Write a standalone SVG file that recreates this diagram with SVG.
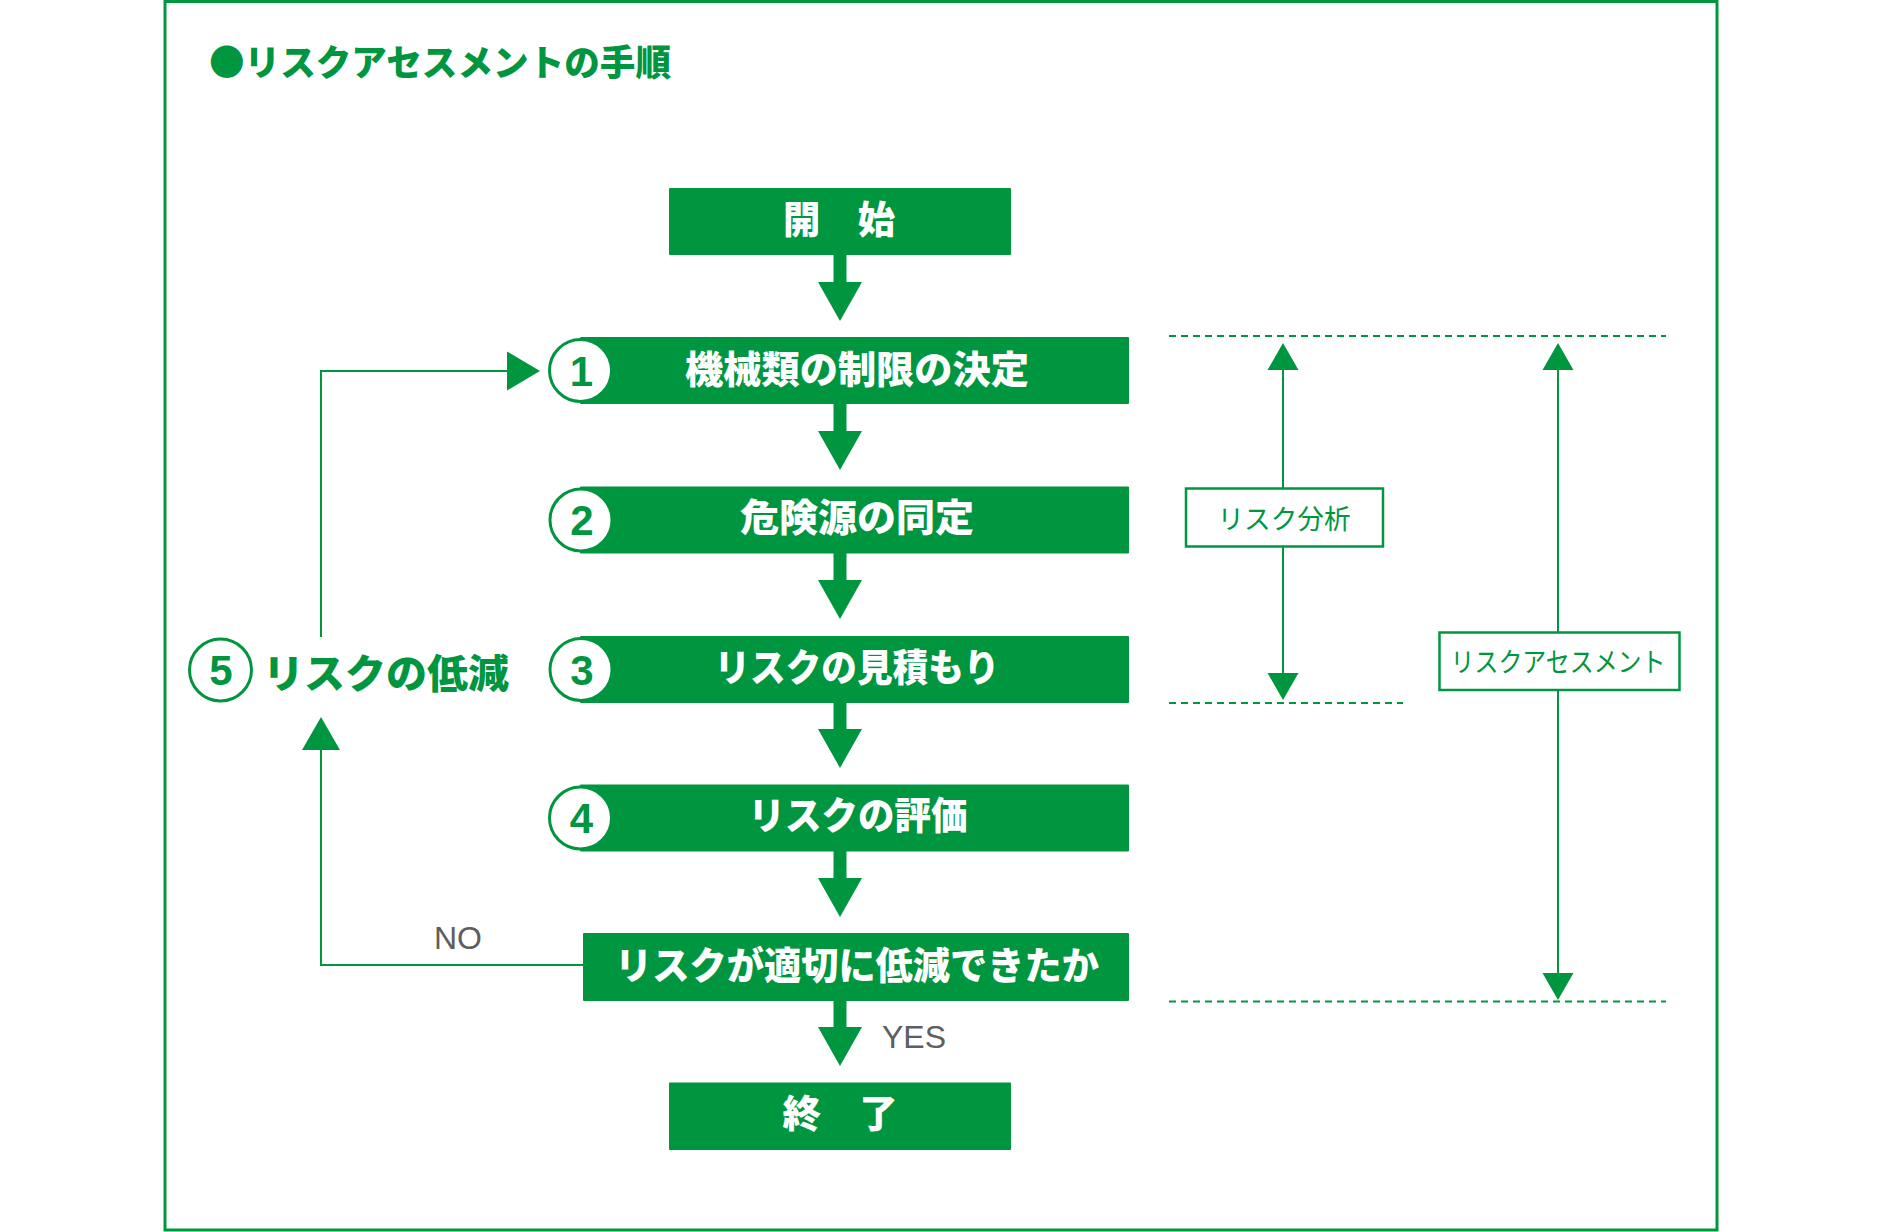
<svg xmlns="http://www.w3.org/2000/svg" width="1885" height="1232" viewBox="0 0 1885 1232">
<style>
.frame{fill:none;stroke:#009640;stroke-width:3}
.box{fill:#009640}
.num{fill:#fff;stroke:#009640;stroke-width:3}
.t{font-family:"Noto Sans CJK JP","Noto Sans",sans-serif;font-weight:900;font-size:38px;fill:#fff;text-anchor:middle;dominant-baseline:central}
.d{font-family:"Liberation Sans",Arial,sans-serif;font-weight:700;font-size:42px;fill:#009640;text-anchor:middle;dominant-baseline:central}
.g{font-family:"Noto Sans CJK JP","Noto Sans",sans-serif;font-weight:900;fill:#009640;dominant-baseline:central}
.lbl{fill:#fff;stroke:#009640;stroke-width:2.5}
.lt{font-family:"Noto Sans CJK JP","Noto Sans",sans-serif;font-weight:400;font-size:27px;fill:#009640;text-anchor:middle;dominant-baseline:central}
.yn{font-family:"Liberation Sans",Arial,sans-serif;font-size:32px;fill:#5e5e5e;dominant-baseline:central}
.ln{fill:none;stroke:#009640;stroke-width:2}
.dash{fill:none;stroke:#009640;stroke-width:2;stroke-dasharray:7 5}
.ah{fill:#009640}
</style>
<rect class="frame" x="165" y="1.5" width="1552" height="1228.5"/>
<g id="title">
<text class="g" x="209" y="60" font-size="36" textLength="462" lengthAdjust="spacingAndGlyphs">●リスクアセスメントの手順</text>
</g>
<g id="connectors">
<path class="ah" d="M833.5 255H846.5V282H862L840 321L818 282H833.5Z"/>
<path class="ah" d="M833.5 404H846.5V431H862L840 470L818 431H833.5Z"/>
<path class="ah" d="M833.5 553H846.5V580H862L840 619L818 580H833.5Z"/>
<path class="ah" d="M833.5 702H846.5V729H862L840 768L818 729H833.5Z"/>
<path class="ah" d="M833.5 851H846.5V878H862L840 917L818 878H833.5Z"/>
<path class="ah" d="M833.5 1000H846.5V1027H862L840 1066L818 1027H833.5Z"/>
<polyline class="ln" points="583,965 321,965 321,748"/>
<path class="ah" d="M321 717L340 750H302Z"/>
<polyline class="ln" points="321,637 321,371 509,371"/>
<path class="ah" d="M540 371L507 351.5V390.5Z"/>
<line class="dash" x1="1169" y1="336" x2="1666" y2="336"/>
<line class="dash" x1="1169" y1="703" x2="1403" y2="703"/>
<line class="dash" x1="1169" y1="1001.5" x2="1666" y2="1001.5"/>
<line class="ln" x1="1283" y1="368" x2="1283" y2="488"/>
<line class="ln" x1="1283" y1="547" x2="1283" y2="676"/>
<path class="ah" d="M1283 343L1298.5 370H1267.5Z"/>
<path class="ah" d="M1283 700L1298.5 673H1267.5Z"/>
<line class="ln" x1="1558" y1="368" x2="1558" y2="632"/>
<line class="ln" x1="1558" y1="690" x2="1558" y2="975"/>
<path class="ah" d="M1558 343L1573.5 370H1542.5Z"/>
<path class="ah" d="M1558 1000L1573.5 973H1542.5Z"/>
<text class="yn" x="434" y="938">NO</text>
<text class="yn" x="882" y="1037">YES</text>
</g>
<g id="start">
<rect class="box" x="669" y="188" width="342" height="67" rx="1"/>
<text class="t" x="839" y="216.5" textLength="112" lengthAdjust="spacingAndGlyphs">開　始</text>
</g>
<g id="step1">
<rect class="box" x="580" y="337" width="549" height="67" rx="1"/>
<circle class="num" cx="580.5" cy="370.5" r="31"/>
<text class="d" x="581.5" y="371">1</text>
<text class="t" x="857" y="366" textLength="344" lengthAdjust="spacingAndGlyphs">機械類の制限の決定</text>
</g>
<g id="step2">
<rect class="box" x="580" y="486.5" width="549" height="67" rx="1"/>
<circle class="num" cx="581" cy="520" r="31"/>
<text class="d" x="582" y="520.5">2</text>
<text class="t" x="857" y="514.5" textLength="234" lengthAdjust="spacingAndGlyphs">危険源の同定</text>
</g>
<g id="step3">
<rect class="box" x="580" y="636" width="549" height="67" rx="1"/>
<circle class="num" cx="581" cy="669.5" r="31"/>
<text class="d" x="582" y="670">3</text>
<text class="t" x="857" y="664" textLength="285" lengthAdjust="spacingAndGlyphs">リスクの見積もり</text>
</g>
<g id="step4">
<rect class="box" x="580" y="784.5" width="549" height="67" rx="1"/>
<circle class="num" cx="580.5" cy="818" r="31"/>
<text class="d" x="581.5" y="818.5">4</text>
<text class="t" x="858" y="812.5" textLength="219" lengthAdjust="spacingAndGlyphs">リスクの評価</text>
</g>
<g id="decision">
<rect class="box" x="583" y="933" width="546" height="68" rx="1"/>
<text class="t" x="857" y="962" textLength="484" lengthAdjust="spacingAndGlyphs">リスクが適切に低減できたか</text>
</g>
<g id="end">
<rect class="box" x="669" y="1082.5" width="342" height="67.5" rx="1"/>
<text class="t" x="840" y="1110.5" textLength="115" lengthAdjust="spacingAndGlyphs">終　了</text>
</g>
<g id="step5">
<circle class="num" cx="220.5" cy="670" r="31"/>
<text class="d" x="221" y="670.5">5</text>
<text class="g" x="263" y="671" font-size="40" textLength="246" lengthAdjust="spacingAndGlyphs">リスクの低減</text>
</g>
<g id="label-analysis">
<rect class="lbl" x="1186" y="488.5" width="197" height="58"/>
<text class="lt" x="1284" y="517" textLength="133" lengthAdjust="spacingAndGlyphs">リスク分析</text>
</g>
<g id="label-assessment">
<rect class="lbl" x="1439.5" y="632.5" width="240" height="57.5"/>
<text class="lt" x="1558" y="660" textLength="215" lengthAdjust="spacingAndGlyphs">リスクアセスメント</text>
</g>
</svg>
